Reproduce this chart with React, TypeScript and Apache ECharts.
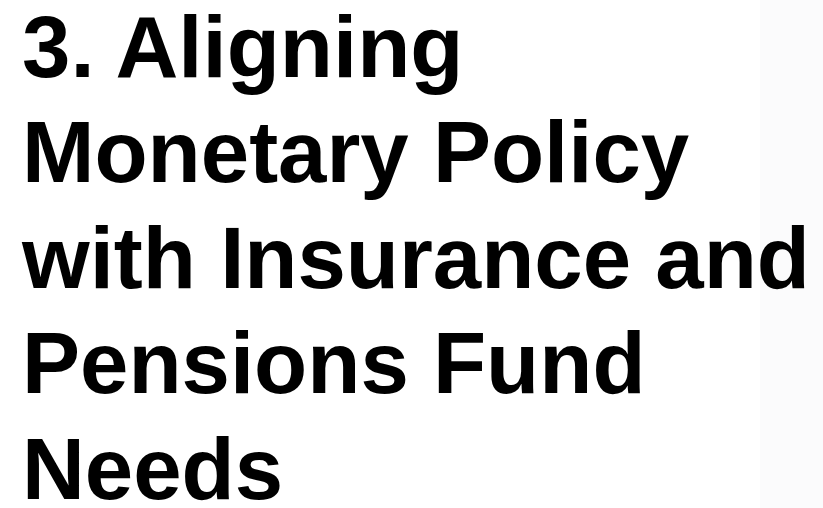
import React, { useEffect, useRef } from "react";
import * as echarts from "echarts";

const titleLines: string[] = [
  "3. Aligning",
  "Monetary Policy",
  "with Insurance and",
  "Pensions Fund",
  "Needs",
];

export default function App() {
  const ref = useRef<HTMLDivElement>(null);
  useEffect(() => {
    if (!ref.current) return;
    const chart = echarts.init(ref.current, undefined, { renderer: "svg" });
    const fontSize = 87;
    const lineGap = 105.5;
    const firstCenter = 46;
    chart.setOption({
      animation: false,
      backgroundColor: "#ffffff",
      graphic: [
        {
          type: "rect",
          left: 760,
          top: 0,
          shape: { width: 63, height: 508 },
          style: { fill: "#fbfbfc" },
          silent: true,
        },
        ...titleLines.map((t, i) => ({
          type: "text",
          x: 22,
          y: firstCenter + i * lineGap,
          style: {
            text: t,
            fill: "#000000",
            font: `700 ${fontSize}px "Liberation Sans"`,
            lineHeight: 72,
            textAlign: "left",
            textVerticalAlign: "middle",
          },
        })),
      ],
    });
    return () => chart.dispose();
  }, []);
  return (
    <div
      ref={ref}
      style={{ width: 823, height: 508, position: "fixed", left: 0, top: 0 }}
    />
  );
}
